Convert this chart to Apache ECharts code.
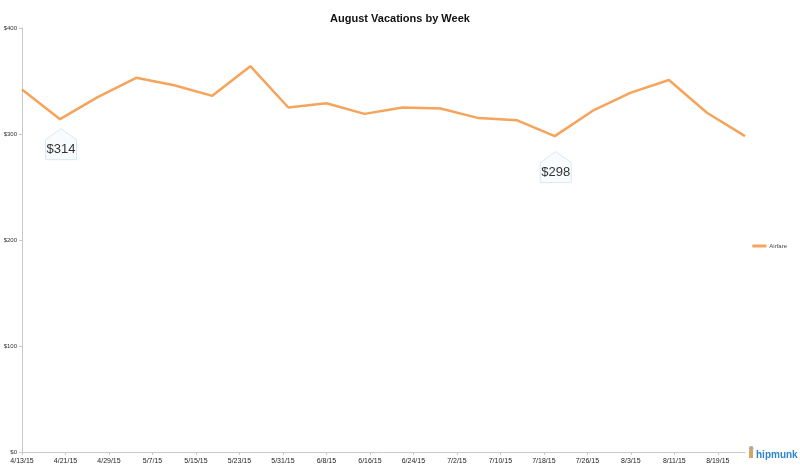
<!DOCTYPE html>
<html>
<head>
<meta charset="utf-8">
<script src="https://cdn.jsdelivr.net/npm/echarts@6/dist/echarts.min.js"></script>
<style>
  html, body { margin: 0; padding: 0; background: #fff; }
  #chart { width: 800px; height: 470px; }
</style>
</head>
<body>
<div id="chart"></div>
<script>
// weekly airfare
var weeks = ['4/13/15','4/20/15','4/27/15','5/4/15','5/11/15','5/18/15','5/25/15','6/1/15','6/8/15','6/15/15',
             '6/22/15','6/29/15','7/6/15','7/13/15','7/20/15','7/27/15','8/3/15','8/10/15','8/17/15','8/24/15']
var airfare = [342, 314, 335, 353, 346, 336, 364, 325, 329, 319,
               325, 324, 315, 313, 298, 322, 339, 351, 320, 298]
var tickLabels = ['4/13/15','4/21/15','4/29/15','5/7/15','5/15/15','5/23/15','5/31/15','6/8/15','6/16/15',
                  '6/24/15','7/2/15','7/10/15','7/18/15','7/26/15','8/3/15','8/11/15','8/19/15']
var yTicks = [0, 100, 200, 300, 400]
var callouts = [1, 14]   // indexes of the labelled points

function toDate(s) {
    var p = s.split('/')
    return Date.UTC(2000 + +p[2], +p[0] - 1, +p[1])
}
var day0 = toDate(weeks[0])
function dayOf(s) { return Math.round((toDate(s) - day0) / 86400000) }

var tickDays = tickLabels.map(dayOf)
var labelByDay = {}
tickLabels.forEach(function (t) { labelByDay[dayOf(t)] = t })

var seriesData = weeks.map(function (w, i) { return [dayOf(w), airfare[i]] })
var lastDay = dayOf(weeks[weeks.length - 1])

var calloutOffsets = [25, 31]
var markData = callouts.map(function (idx, k) {
    return {
        coord: seriesData[idx],
        value: '$' + airfare[idx],
        symbolOffset: [1, calloutOffsets[k]]
    }
})

var chart = echarts.init(document.getElementById('chart'))
var option = {
    animation: false,
    title: {
        text: 'August Vacations by Week',
        left: 'center',
        top: 8,
        textStyle: { fontFamily: 'Liberation Sans', fontSize: 11, fontWeight: 'bold', color: '#111' }
    },
    legend: {
        orient: 'vertical',
        right: 8,
        top: 238,
        itemWidth: 14,
        itemHeight: 3,
        itemGap: 4,
        icon: 'rect',
        textStyle: { fontFamily: 'Liberation Sans', fontSize: 6, color: '#444', padding: [0, 0, 0, -2] },
        data: ['Airfare']
    },
    grid: { left: 22, right: 55, top: 28, bottom: 18, containLabel: false },
    xAxis: {
        type: 'value',
        min: 0,
        max: lastDay,
        splitLine: { show: false },
        axisLine: { show: true, lineStyle: { color: '#c8c8c8', width: 1 } },
        axisTick: { show: true, length: 3, customValues: tickDays, lineStyle: { color: '#c8c8c8' } },
        axisLabel: {
            customValues: tickDays,
            formatter: function (v) { return labelByDay[v] || '' },
            fontFamily: 'Liberation Sans',
            fontSize: 7,
            color: '#222',
            margin: 6
        }
    },
    yAxis: {
        type: 'value',
        min: 0,
        max: 400,
        interval: 100,
        splitLine: { show: false },
        axisLine: { show: true, lineStyle: { color: '#c8c8c8', width: 1 } },
        axisTick: { show: true, length: 3, lineStyle: { color: '#c8c8c8' } },
        axisLabel: {
            customValues: yTicks,
            formatter: function (v) { return '$' + v },
            fontFamily: 'Liberation Sans',
            fontSize: 6,
            color: '#333',
            margin: 5
        }
    },
    series: [{
        name: 'Airfare',
        type: 'line',
        data: seriesData,
        showSymbol: false,
        symbol: 'none',
        color: '#f6a35b',
        lineStyle: { color: '#f6a35b', width: 2.5 },
        markPoint: {
            symbol: 'path://M15.5,0 L31,11 L31,31 L0,31 L0,11 Z',
            symbolSize: [31, 31],
            itemStyle: { color: '#f9fcfe', borderColor: '#d9e8f4', borderWidth: 1 },
            label: {
                show: true,
                position: 'inside',
                offset: [0, 5],
                fontFamily: 'Liberation Sans',
                fontSize: 13,
                color: '#333',
                formatter: function (p) { return p.value }
            },
            data: markData
        }
    }],
    graphic: [
        { type: 'rect', left: 749, top: 450, shape: { width: 4, height: 8 }, style: { fill: '#d9a46a' } },
        { type: 'circle', left: 749, top: 446, shape: { r: 2.2 }, style: { fill: '#b9a58e' } },
        {
            type: 'text', left: 756, top: 450,
            style: { text: 'hipmunk', fill: '#2f86d0', fontFamily: 'Liberation Sans', fontSize: 10, fontWeight: 'bold' }
        }
    ]
}
chart.setOption(option)
</script>
</body>
</html>
